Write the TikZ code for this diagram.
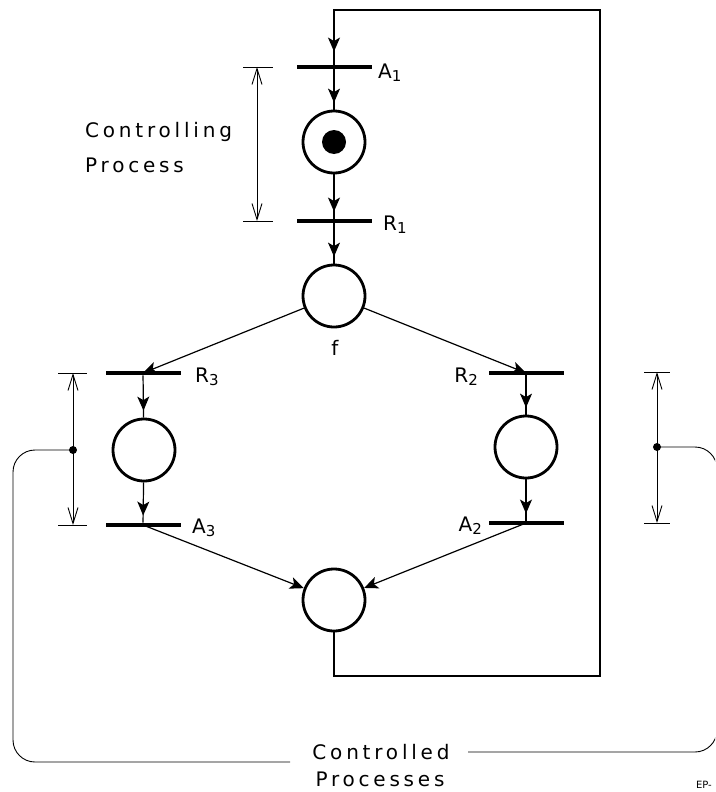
\documentclass[tikz,border=0pt]{standalone}
\usepackage{fontspec}
\setmainfont{DejaVu Sans}
\newfontfamily\wide{DejaVu Sans}[LetterSpace=19]
\usepackage{tikz}
\usetikzlibrary{arrows.meta, decorations.markings}
\newcommand{\subl}[2]{#1\raisebox{-3pt}{\fontsize{15}{15}\selectfont#2}}
\tikzset{%
	place/.style={
		circle,
		draw,
		line width=2.8pt,
		minimum size=62pt,
		inner sep=0pt
	},
	bar/.style={
		rectangle,
		fill=black,
		minimum width=75pt,
		minimum height=4.5pt,
		inner sep=0pt
	},
	flow/.style={
		line width=1.2pt,
		postaction={decorate},
		decoration={markings, mark=at position -7pt with {\arrow{Stealth[length=14pt,width=12pt,inset=3.5pt]}}}
	},
	loopflow/.style={
		line width=1.2pt,
		postaction={decorate},
		decoration={markings, mark=at position -13pt with {\arrow{Stealth[length=14pt,width=12pt,inset=3.5pt]}}}
	},
	flowend/.style={
		line width=1.2pt,
		-{Stealth[length=14pt,width=12pt,inset=3.5pt]}
	},
	dimline/.style={
		line width=0.9pt,
		{Straight Barb[length=16pt,width=10pt]}-{Straight Barb[length=16pt,width=10pt]}
	},
	dimtick/.style={line width=0.9pt},
	tlabel/.style={inner sep=0pt, font=\wide\fontsize{20}{24}\selectfont},
}
\begin{document}
\begin{tikzpicture}[x=1pt, y=-1pt]
	\useasboundingbox (0,0) rectangle (715,792);
	\clip (0,0) rectangle (715,792);

	% Controlling process
	\node[bar] (A1) at (334,67) {};
	\node[place] (P1) at (334,142) {};
	\fill (P1.center) circle (12pt);
	\node[bar] (R1) at (334,221) {};
	\node[place] (Pf) at (334,296) {};

	% Controlled processes
	\node[bar] (R3) at (143,373) {};
	\node[place] (P3) at (144,450) {};
	\node[bar] (A3) at (143,525) {};
	\node[bar] (R2) at (526,373) {};
	\node[place] (P2) at (526,447) {};
	\node[bar] (A2) at (526,523) {};
	\node[place] (Pb) at (334,600) {};

	% Labels
	\node[tlabel, anchor=base west] (lA1) at (378,78) {\subl{A}{1}};
	\node[tlabel, anchor=base west] (lR1) at (383,230) {\subl{R}{1}};
	\node[tlabel, anchor=base] (lf) at (335,355) {f};
	\node[tlabel, anchor=base west] (lR3) at (195,382) {\subl{R}{3}};
	\node[tlabel, anchor=base west] (lA3) at (192,533) {\subl{A}{3}};
	\node[tlabel, anchor=base east] (lR2) at (478,382) {\subl{R}{2}};
	\node[tlabel, anchor=base east] (lA2) at (482,531) {\subl{A}{2}};

	% Arcs
	\draw[flow] (A1) -- (P1);
	\draw[flow] (P1) -- (R1);
	\draw[flow] (R1) -- (Pf);
	\draw[flowend] (Pf) -- (R3.center);
	\draw[flowend] (Pf) -- (R2.center);
	\draw[flow] (R3) -- (P3);
	\draw[flow] (P3) -- (A3);
	\draw[flow] (R2) -- (P2);
	\draw[flow] (P2) -- (A2);
	\draw[flowend] (A3.center) -- (Pb);
	\draw[flowend] (A2.center) -- (Pb);

	% Feedback loop
	\coordinate (cBL) at (334,676);
	\coordinate (cBR) at (600,676);
	\coordinate (cTR) at (600,10);
	\coordinate (cTL) at (334,10);
	\draw[loopflow] (Pb) -- (cBL) -- (cBR) -- (cTR) -- (cTL) -- (A1);

	% Dimension lines
	\coordinate (d1t) at (257,67);
	\coordinate (d1b) at (257,221);
	\draw[dimline] (d1t) -- (d1b);
	\draw[dimtick] ([xshift=-14pt]d1t) -- ([xshift=16pt]d1t);
	\draw[dimtick] ([xshift=-14pt]d1b) -- ([xshift=16pt]d1b);
	\node[tlabel, anchor=base west] (ctl1) at (85,137) {Controlling};
	\node[tlabel, anchor=base west] (ctl2) at (85,172) {Process};

	\coordinate (d2t) at (73,373);
	\coordinate (d2b) at (73,525);
	\draw[dimline] (d2t) -- (d2b);
	\draw[dimtick] ([xshift=-15pt]d2t) -- ([xshift=14pt]d2t);
	\draw[dimtick] ([xshift=-15pt]d2b) -- ([xshift=14pt]d2b);
	\coordinate (d3t) at (657,372);
	\coordinate (d3b) at (657,523);
	\draw[dimline] (d3t) -- (d3b);
	\draw[dimtick] ([xshift=-13pt]d3t) -- ([xshift=13pt]d3t);
	\draw[dimtick] ([xshift=-13pt]d3b) -- ([xshift=13pt]d3b);

	% Brackets of the controlled processes
	\fill (73,450) circle (4pt) coordinate (dotL);
	\fill (657,447) circle (4pt) coordinate (dotR);
	\node[tlabel, anchor=base] (cp1) at (381,759) {Controlled};
	\node[tlabel, anchor=base] (cp2) at (380,786) {Processes};
	\draw[line width=0.9pt, rounded corners=22pt] (dotL) -- (13,450) -- (13,762) -- (290,762);
	\draw[line width=0.9pt, rounded corners=22pt] (dotR) -- (717,447) -- (717,752) -- (468,752);

	\node[inner sep=0pt, anchor=south east, font=\fontsize{10}{10}\selectfont] (ep) at (712,789) {EP-};
\end{tikzpicture}
\end{document}
